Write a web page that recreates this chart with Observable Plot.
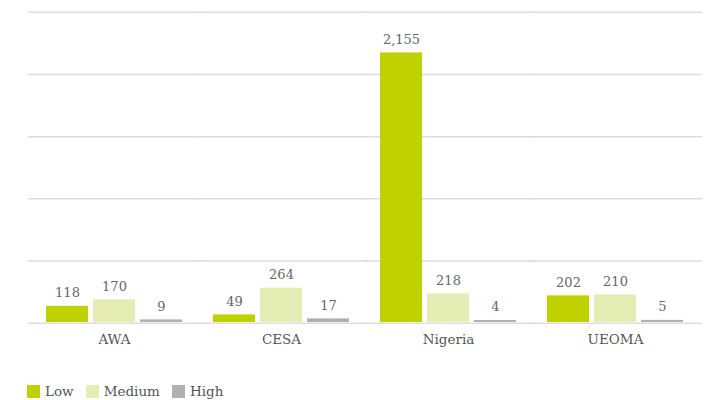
<!DOCTYPE html>
<html>
<head>
<meta charset="utf-8">
<script src="https://cdn.jsdelivr.net/npm/d3@7"></script>
<script src="https://cdn.jsdelivr.net/npm/@observablehq/plot@0.6"></script>
<style>
  body { margin: 0; background: #fff; font-family: "DejaVu Serif", serif; }
  #legend { display: flex; align-items: center; margin-top: 33px; padding-left: 27px; font-size: 13.5px; color: #555; }
  #legend .item { display: flex; align-items: center; margin-right: 12px; }
  #legend .sw { width: 13px; height: 13px; margin-right: 5px; }
</style>
</head>
<body>
<div id="chart"></div>
<div id="legend"></div>
<script>
const regions = ["AWA", "CESA", "Nigeria", "UEOMA"];
const levels = ["Low", "Medium", "High"];
const low = [118, 49, 2155, 202];
const medium = [170, 264, 218, 210];
const high = [9, 17, 4, 5];
const colors = ["#bfd200", "#e6edb4", "#b0b0b0"];
const gridTicks = [0, 500, 1000, 1500, 2000, 2500];

const series = [low, medium, high];
const data = [];
regions.forEach((r, i) => levels.forEach((l, j) => data.push({region: r, level: l, value: series[j][i]})));

const fmt = d3.format(",");

const chart = Plot.plot({
  width: 711,
  height: 350,
  marginLeft: 29,
  marginRight: 10,
  marginTop: 11,
  marginBottom: 28,
  style: {fontFamily: "DejaVu Serif, serif", background: "#fff"},
  fx: {domain: regions, paddingInner: 0.173, paddingOuter: 0.09, label: null, axis: "bottom", tickSize: 0, tickPadding: 12},
  x: {domain: levels, axis: null, paddingInner: 0.1, paddingOuter: 0},
  y: {domain: [0, 2500], axis: null},
  color: {domain: levels, range: colors},
  marks: [
    Plot.ruleY(gridTicks, {stroke: "#dddddd", strokeWidth: 1.5, dy: 0.75, insetLeft: -17, insetRight: -18}),
    Plot.barY(data, {fx: "region", x: "level", y: "value", fill: "level", insetTop: -1.5}),
    Plot.text(data, {fx: "region", x: "level", y: "value", text: d => fmt(d.value), dy: -15, fill: "#666", fontSize: 13})
  ]
});
chart.querySelectorAll('g[aria-label="fx-axis tick label"]').forEach(g => {
  g.setAttribute("font-size", "13.5");
  g.setAttribute("fill", "#555");
});
document.getElementById("chart").append(chart);

const legend = document.getElementById("legend");
levels.forEach((l, j) => {
  const item = document.createElement("div");
  item.className = "item";
  const sw = document.createElement("div");
  sw.className = "sw";
  sw.style.background = colors[j];
  const label = document.createElement("span");
  label.textContent = l;
  item.append(sw, label);
  legend.append(item);
});
</script>
</body>
</html>
